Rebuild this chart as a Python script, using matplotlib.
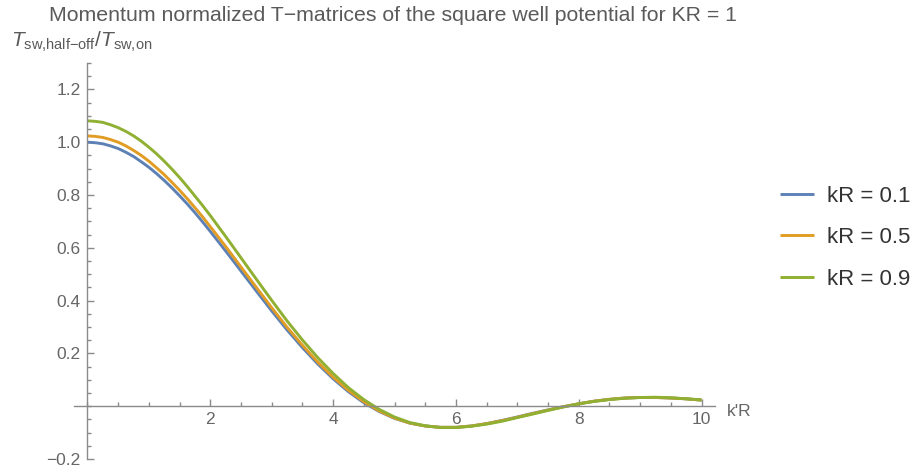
import matplotlib
matplotlib.use("Agg")
import matplotlib.pyplot as plt
from matplotlib.ticker import MultipleLocator, FixedLocator, FixedFormatter

plt.rcParams['font.family'] = ['Liberation Sans', 'DejaVu Sans']
plt.rcParams['mathtext.fontset'] = 'custom'
plt.rcParams['mathtext.rm'] = 'Liberation Sans'
plt.rcParams['mathtext.it'] = 'Liberation Sans:italic'
plt.rcParams['mathtext.bf'] = 'Liberation Sans:bold'

# k'R sample positions (finer near the rounded top)
kpr = [0.0, 0.125, 0.25, 0.375, 0.5, 0.625, 0.75, 0.875, 1.0, 1.125, 1.25,
       1.375, 1.5, 1.625, 1.75, 1.875, 2.0, 2.25, 2.5, 2.75,
       3.0, 3.25, 3.5, 3.75, 4.0, 4.25, 4.5, 4.75, 5.0, 5.25, 5.5, 5.75,
       6.0, 6.25, 6.5, 6.75, 7.0, 7.25, 7.5, 7.75, 8.0, 8.25, 8.5, 8.75,
       9.0, 9.25, 9.5, 9.75, 10.0]

# T_half-off / T_on for each on-shell momentum
ratio_kr01 = [1.000, 0.998, 0.994, 0.986, 0.976, 0.962, 0.946, 0.926, 0.905,
              0.881, 0.855, 0.827, 0.797, 0.766, 0.733, 0.698, 0.662,
              0.588, 0.512, 0.436, 0.361, 0.289, 0.222, 0.160, 0.104, 0.055,
              0.013, -0.020, -0.046, -0.064, -0.075, -0.080, -0.080, -0.075,
              -0.066, -0.054, -0.041, -0.027, -0.014, -0.002, 0.009, 0.019,
              0.026, 0.031, 0.033, 0.033, 0.031, 0.028, 0.023]
ratio_kr05 = [1.024, 1.022, 1.018, 1.010, 1.000, 0.986, 0.969, 0.950, 0.928,
              0.903, 0.877, 0.848, 0.818, 0.786, 0.752, 0.717, 0.680,
              0.605, 0.527, 0.450, 0.373, 0.299, 0.231, 0.167, 0.110, 0.060,
              0.017, -0.018, -0.045, -0.064, -0.075, -0.080, -0.080, -0.075,
              -0.066, -0.055, -0.042, -0.028, -0.015, -0.002, 0.009, 0.019,
              0.026, 0.031, 0.033, 0.033, 0.031, 0.028, 0.023]
ratio_kr09 = [1.081, 1.079, 1.075, 1.066, 1.055, 1.041, 1.024, 1.004, 0.981,
              0.956, 0.928, 0.898, 0.866, 0.832, 0.796, 0.760, 0.722,
              0.643, 0.562, 0.481, 0.401, 0.323, 0.251, 0.184, 0.124, 0.070,
              0.025, -0.012, -0.041, -0.062, -0.074, -0.081, -0.081, -0.076,
              -0.068, -0.057, -0.043, -0.030, -0.016, -0.003, 0.009, 0.018,
              0.025, 0.030, 0.033, 0.034, 0.032, 0.028, 0.024]

series_labels = ['kR = 0.1', 'kR = 0.5', 'kR = 0.9']
series_colors = ['#5E81B5', '#E19C24', '#8FB032']

y_major = [-0.2, 0.2, 0.4, 0.6, 0.8, 1.0, 1.2]
y_major_labels = ['\u22120.2', '0.2', '0.4', '0.6', '0.8', '1.0', '1.2']
x_major = [2, 4, 6, 8, 10]
x_major_labels = ['2', '4', '6', '8', '10']

axis_color = '#8a8a8a'
text_color = '#666666'

fig = plt.figure(figsize=(9.18, 4.73), dpi=100)
ax = fig.add_axes([0.0806, 0.0296, 0.6983, 0.8372])

for vals, lab, col in zip([ratio_kr01, ratio_kr05, ratio_kr09], series_labels, series_colors):
    ax.plot(kpr, vals, color=col, lw=2.1, label=lab, solid_capstyle='butt',
            solid_joinstyle='round')

ax.set_xlim(-0.22, 10.22)
ax.set_ylim(-0.2, 1.3)

for s in ['top', 'right']:
    ax.spines[s].set_visible(False)
ax.spines['left'].set_position(('data', 0))
ax.spines['bottom'].set_position(('data', 0))
for s in ['left', 'bottom']:
    ax.spines[s].set_color(axis_color)
    ax.spines[s].set_linewidth(1.0)

ax.xaxis.set_major_locator(FixedLocator(x_major))
ax.xaxis.set_major_formatter(FixedFormatter(x_major_labels))
ax.xaxis.set_minor_locator(MultipleLocator(0.5))
ax.yaxis.set_major_locator(FixedLocator(y_major))
ax.yaxis.set_major_formatter(FixedFormatter(y_major_labels))
ax.yaxis.set_minor_locator(MultipleLocator(0.05))

ax.tick_params(axis='both', which='major', direction='in', length=5, width=1,
               color=axis_color, labelcolor=text_color, labelsize=12.5)
ax.tick_params(axis='both', which='minor', direction='in', length=3, width=1,
               color=axis_color)
ax.tick_params(axis='x', which='major', pad=4)
ax.tick_params(axis='y', which='major', pad=5)

fig.text(0.428, 0.968,
         'Momentum normalized T\u2212matrices of the square well potential for KR = 1',
         ha='center', va='center', fontsize=15.3, color='#5a5a5a')
fig.text(0.012, 0.912,
         '$T_{\\text{sw,half\u2212off}}/T_{\\text{sw,on}}$',
         ha='left', va='center', fontsize=15, color='#5a5a5a')
fig.text(0.792, 1 - 411 / 473, "k'R", ha='left', va='center',
         fontsize=12.5, color=text_color)

leg = ax.legend(loc='upper left', bbox_to_anchor=(0.8395, 0.626),
                bbox_transform=fig.transFigure, frameon=False, fontsize=16,
                handlelength=1.55, handletextpad=0.6, labelspacing=0.92,
                borderaxespad=0)
for t in leg.get_texts():
    t.set_color('#333333')

fig.savefig('out.png', dpi=100)
